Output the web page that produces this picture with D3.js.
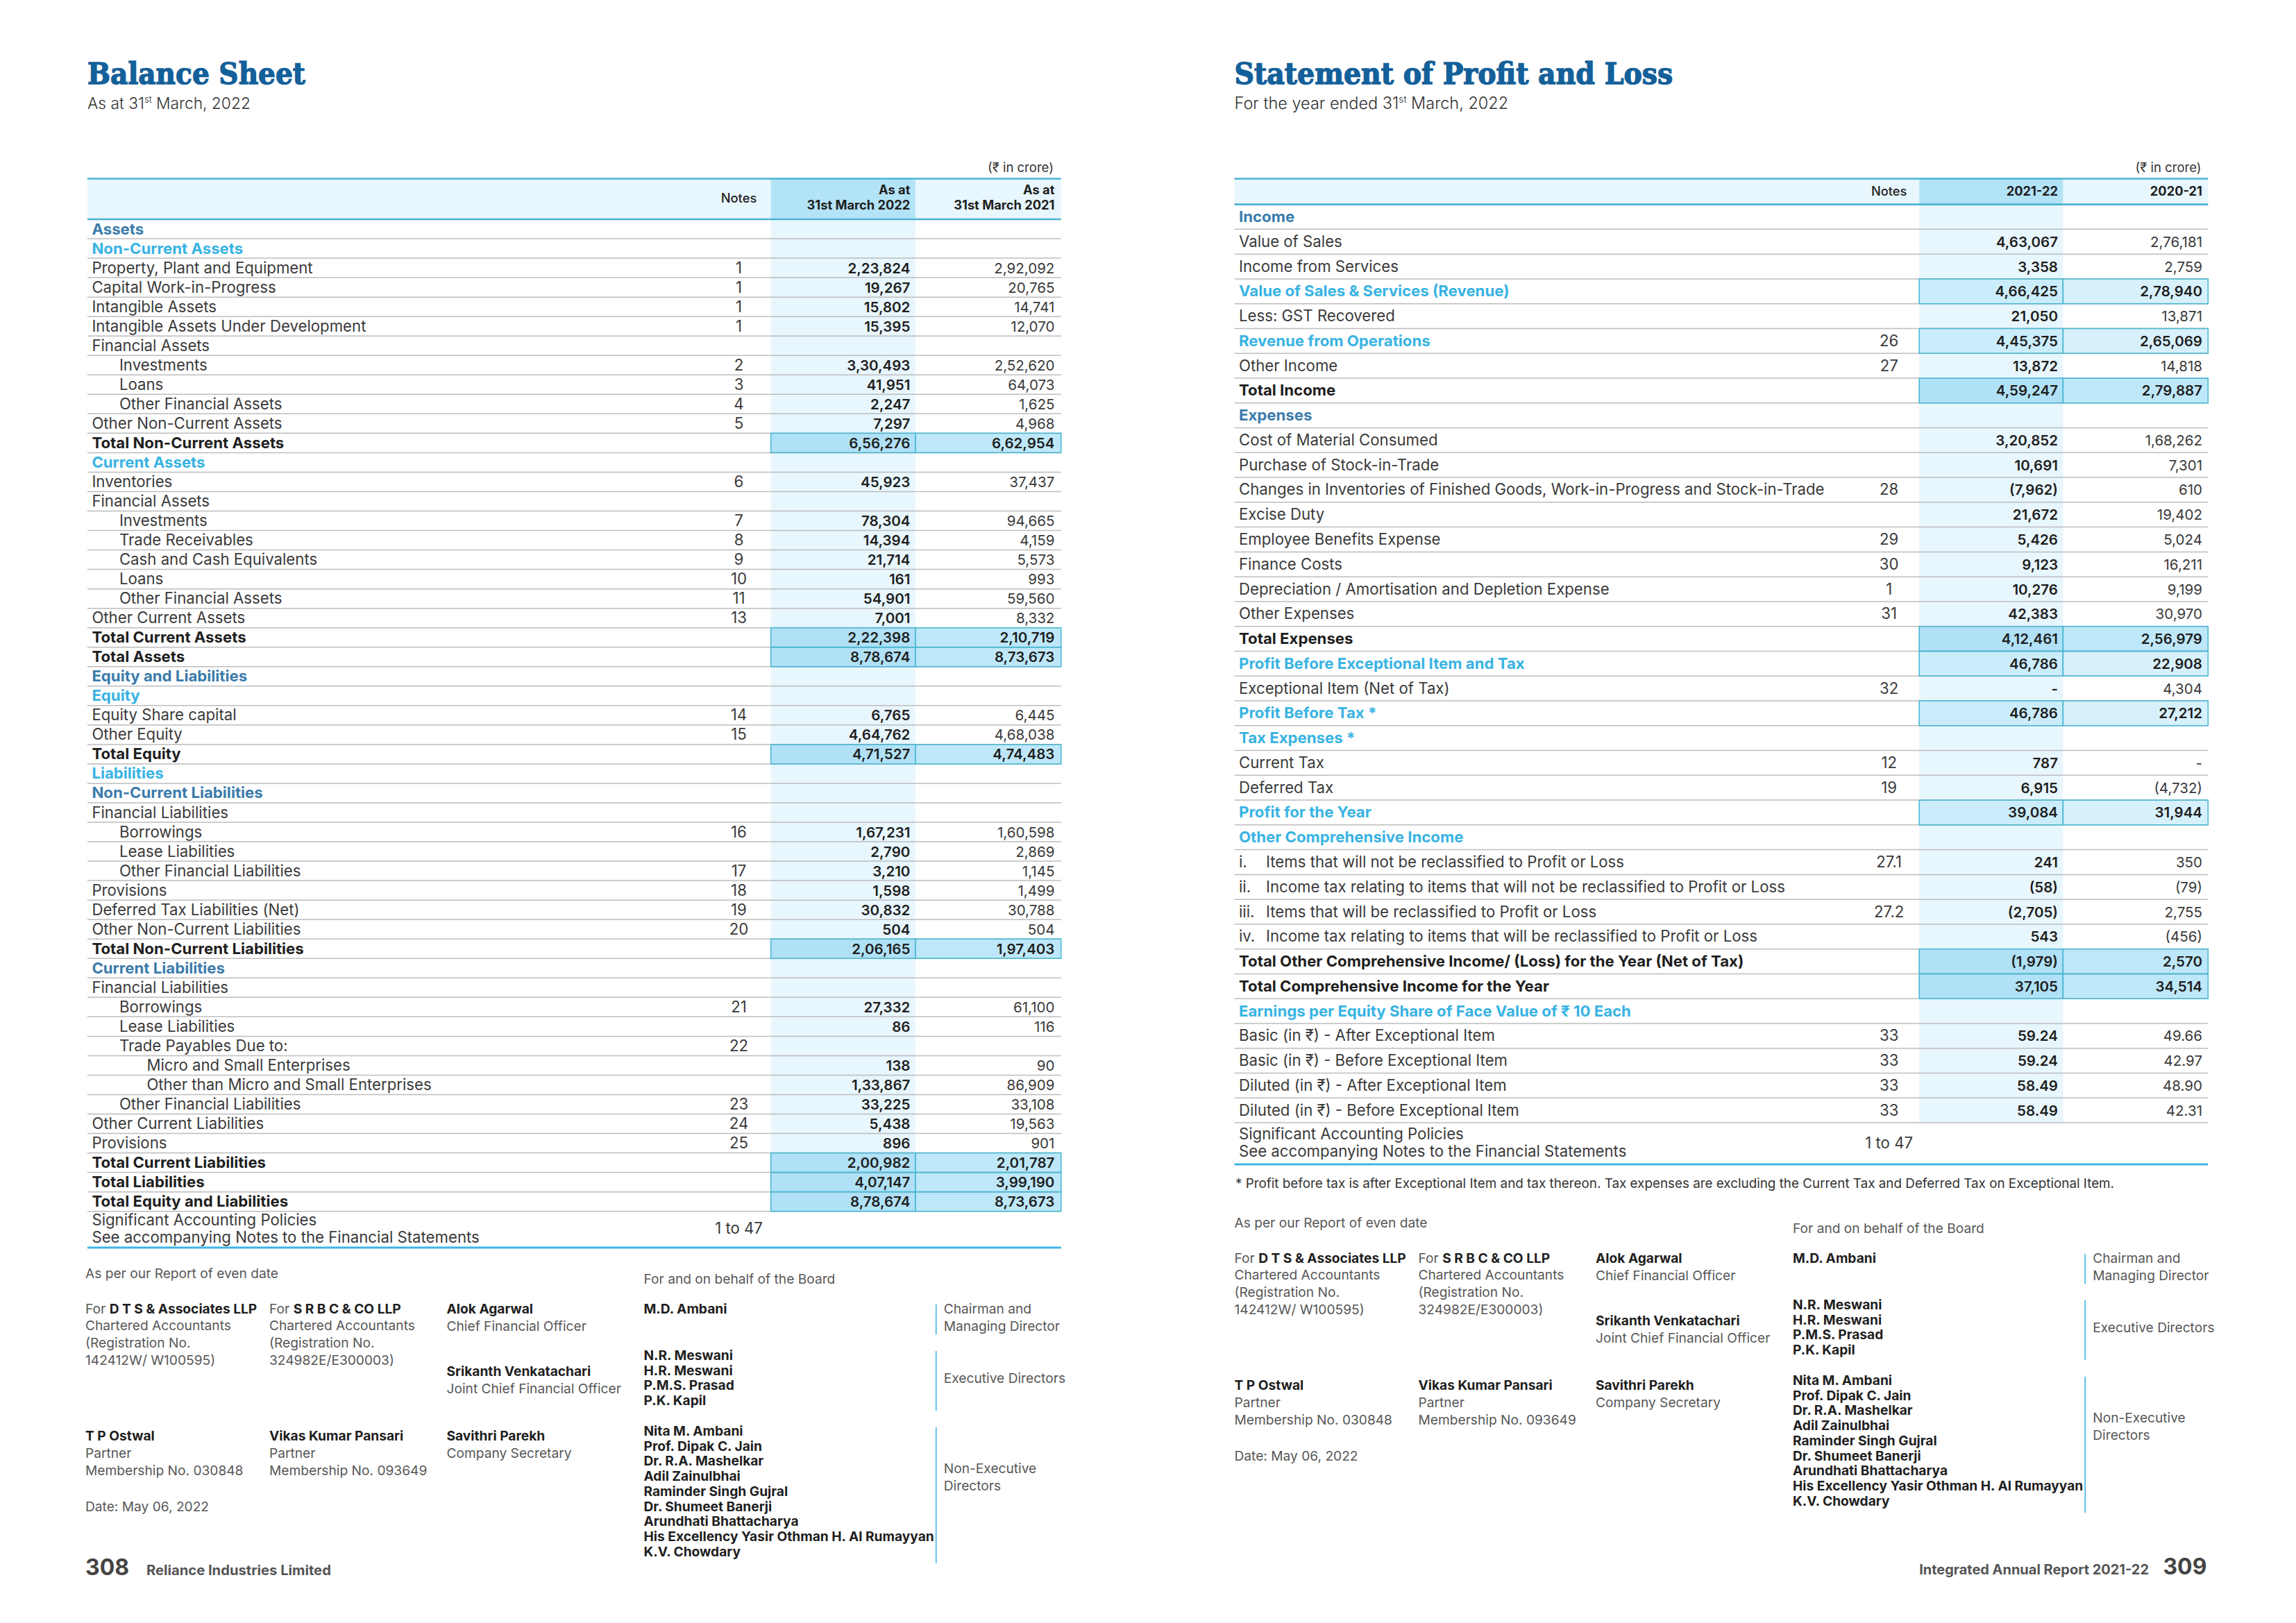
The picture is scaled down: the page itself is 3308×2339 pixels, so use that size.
<!DOCTYPE html>
<html><head><meta charset="utf-8">
<script src="https://cdn.jsdelivr.net/npm/d3@7"></script>
<style>body{margin:0;background:#fff}svg{display:block}</style>
</head><body><svg id="c" width="3308" height="2339"></svg>
<script>
// ---------------- DATA ----------------
const bsLabels = ["Assets","Non-Current Assets","Property, Plant and Equipment","Capital Work-in-Progress","Intangible Assets","Intangible Assets Under Development","Financial Assets","Investments","Loans","Other Financial Assets","Other Non-Current Assets","Total Non-Current Assets","Current Assets","Inventories","Financial Assets","Investments","Trade Receivables","Cash and Cash Equivalents","Loans","Other Financial Assets","Other Current Assets","Total Current Assets","Total Assets","Equity and Liabilities","Equity","Equity Share capital","Other Equity","Total Equity","Liabilities","Non-Current Liabilities","Financial Liabilities","Borrowings","Lease Liabilities","Other Financial Liabilities","Provisions","Deferred Tax Liabilities (Net)","Other Non-Current Liabilities","Total Non-Current Liabilities","Current Liabilities","Financial Liabilities","Borrowings","Lease Liabilities","Trade Payables Due to:","Micro and Small Enterprises","Other than Micro and Small Enterprises","Other Financial Liabilities","Other Current Liabilities","Provisions","Total Current Liabilities","Total Liabilities","Total Equity and Liabilities"];
const bsKinds = ["h1","h2","item","item","item","item","item","item","item","item","item","total","h2","item","item","item","item","item","item","item","item","total","total","h1","h2","item","item","total","h2","h1","item","item","item","item","item","item","item","total","h1","item","item","item","item","item","item","item","item","item","total","total","total"];
const bsIndent = [0,0,0,0,0,0,0,1,1,1,0,0,0,0,0,1,1,1,1,1,0,0,0,0,0,0,0,0,0,0,0,1,1,1,0,0,0,0,0,0,1,1,1,2,2,1,0,0,0,0,0];
const bsNotes = ["","","1","1","1","1","","2","3","4","5","","","6","","7","8","9","10","11","13","","","","","14","15","","","","","16","","17","18","19","20","","","","21","","22","","","23","24","25","","",""];
const bs2022 = [null,null,223824,19267,15802,15395,null,330493,41951,2247,7297,656276,null,45923,null,78304,14394,21714,161,54901,7001,222398,878674,null,null,6765,464762,471527,null,null,null,167231,2790,3210,1598,30832,504,206165,null,null,27332,86,null,138,133867,33225,5438,896,200982,407147,878674];
const bs2021 = [null,null,292092,20765,14741,12070,null,252620,64073,1625,4968,662954,null,37437,null,94665,4159,5573,993,59560,8332,210719,873673,null,null,6445,468038,474483,null,null,null,160598,2869,1145,1499,30788,504,197403,null,null,61100,116,null,90,86909,33108,19563,901,201787,399190,873673];

const plLabels = ["Income","Value of Sales","Income from Services","Value of Sales & Services (Revenue)","Less: GST Recovered","Revenue from Operations","Other Income","Total Income","Expenses","Cost of Material Consumed","Purchase of Stock-in-Trade","Changes in Inventories of Finished Goods, Work-in-Progress and Stock-in-Trade","Excise Duty","Employee Benefits Expense","Finance Costs","Depreciation / Amortisation and Depletion Expense","Other Expenses","Total Expenses","Profit Before Exceptional Item and Tax","Exceptional Item (Net of Tax)","Profit Before Tax *","Tax Expenses *","Current Tax","Deferred Tax","Profit for the Year","Other Comprehensive Income","i.|Items that will not be reclassified to Profit or Loss","ii.|Income tax relating to items that will not be reclassified to Profit or Loss","iii.|Items that will be reclassified to Profit or Loss","iv.|Income tax relating to items that will be reclassified to Profit or Loss","Total Other Comprehensive Income/ (Loss) for the Year (Net of Tax)","Total Comprehensive Income for the Year","Earnings per Equity Share of Face Value of ₹ 10 Each","Basic (in ₹) - After Exceptional Item","Basic (in ₹) - Before Exceptional Item","Diluted (in ₹) - After Exceptional Item","Diluted (in ₹) - Before Exceptional Item"];
const plKinds = ["h1","item","item","sub","item","sub","item","total","h1","item","item","item","item","item","item","item","item","total","sub","item","sub","h2","item","item","sub","h2","item","item","item","item","total","total","h2","item","item","item","item"];
const plNotes = ["","","","","","26","27","","","","","28","","29","30","1","31","","","32","","","12","19","","","27.1","","27.2","","","","","33","33","33","33"];
const pl2022 = [null,463067,3358,466425,21050,445375,13872,459247,null,320852,10691,-7962,21672,5426,9123,10276,42383,412461,46786,0,46786,null,787,6915,39084,null,241,-58,-2705,543,-1979,37105,null,59.24,59.24,58.49,58.49];
const pl2021 = [null,276181,2759,278940,13871,265069,14818,279887,null,168262,7301,610,19402,5024,16211,9199,30970,256979,22908,4304,27212,null,0,-4732,31944,null,350,-79,2755,-456,2570,34514,null,49.66,42.97,48.90,42.31];

const auditors = [
  {firm:"D T S & Associates LLP", reg:"142412W/ W100595)", partner:"T P Ostwal", mem:"030848"},
  {firm:"S R B C & CO LLP", reg:"324982E/E300003)", partner:"Vikas Kumar Pansari", mem:"093649"}
];
const officers = [["Alok Agarwal","Chief Financial Officer"],["Srikanth Venkatachari","Joint Chief Financial Officer"],["Savithri Parekh","Company Secretary"]];
const boardNames = [["M.D. Ambani"],["N.R. Meswani","H.R. Meswani","P.M.S. Prasad","P.K. Kapil"],["Nita M. Ambani","Prof. Dipak C. Jain","Dr. R.A. Mashelkar","Adil Zainulbhai","Raminder Singh Gujral","Dr. Shumeet Banerji","Arundhati Bhattacharya","His Excellency Yasir Othman H. Al Rumayyan","K.V. Chowdary"]];
const boardRoles = [["Chairman and","Managing Director"],["Executive Directors"],["Non-Executive","Directors"]];

// ---------------- SETUP ----------------
const W=3308,H=2339;
const svg=d3.select('#c');
svg.append('rect').attr('width',W).attr('height',H).attr('fill','#fff');
const BODY="Inter, 'Noto Sans', 'DejaVu Sans', sans-serif";
const SERIF="'DejaVu Serif Condensed','DejaVu Serif',serif";
const C = {title:'#14609a', h1:'#3b7bab', h2:'#38b3e3', text:'#3a3a3a', dark:'#1e1e1e', gray:'#575757',
  light:'#e8f6fd', headDark:'#b3e3f7', tot22:'#b0e1f6', tot21:'#bee8f9', sub22:'#cbedfb', sub21:'#d7f1fc',
  box:'#4cb8d3', rule:'#bdbdbd', teal:'#4ab3cf', blue:'#3db5e4'};

function measure(text,family,weight,size){
  const t=svg.append('text').attr('font-family',family).attr('font-weight',weight).attr('font-size',size).text(text);
  const w=t.node().getComputedTextLength(); t.remove(); return w;
}
function fit(text,family,weight,target){return 20*target/measure(text,family,weight,20);}
const fsBody=fit('Significant Accounting Policies',BODY,400,324);
const fsVal=fit('2,23,824',BODY,600,90);
const fsHead=fit('31st March 2022',BODY,700,149);
const fsSig=fit('Chartered Accountants',BODY,400,210);
const fsTitleL=fit('Balance Sheet',SERIF,700,314);
const fsTitleR=fit('Statement of Profit and Loss',SERIF,700,632);
const fsNoteFoot=fit('* Profit before tax is after Exceptional Item and tax thereon. Tax expenses are excluding the Current Tax and Deferred Tax on Exceptional Item.',BODY,400,1267);
const fsUnit=fit('(₹ in crore)',BODY,400,95);

function fmt(v){
  if(v===null||v===undefined) return '';
  if(v===0) return '-';
  const neg=v<0; const a=Math.abs(v);
  let s;
  if(Number.isInteger(a)){
    const str=String(a); const last3=str.slice(-3); let rest=str.slice(0,-3);
    rest=rest.replace(/\B(?=(\d{2})+(?!\d))/g,',');
    s=rest?rest+','+last3:last3;
  } else s=a.toFixed(2);
  return neg?'('+s+')':s;
}

function txt(g,x,y,s,o={}){
  return g.append('text').attr('x',x).attr('y',y).text(s)
    .attr('font-family',o.family||BODY).attr('font-size',o.size||fsBody)
    .attr('font-weight',o.weight||400).attr('fill',o.fill||C.text)
    .attr('text-anchor',o.anchor||'start');
}

// ---------------- TITLES ----------------
function titleBlock(x,title,fsT,pre,subW){
  // title: stretch vertically so cap height matches the tall slab face (~31px)
  const tg=svg.append('g');
  const tt=txt(tg,0,0,title,{family:SERIF,size:fsT,weight:700,fill:C.title})
    .attr('stroke',C.title).attr('stroke-width',1.3);
  const bb=tt.node().getBBox();
  // DejaVu Serif cap height ~0.729em
  const ky=31/(0.729*fsT);
  tg.attr('transform',`translate(${x},121) scale(1,${ky})`);
  let fs=22;
  const t=svg.append('text').attr('x',x).attr('y',157).attr('font-family',BODY).attr('font-weight',300).attr('fill','#333');
  t.append('tspan').text(pre+'31');
  const sup=t.append('tspan').text('st');
  const rest=t.append('tspan').text(' March, 2022');
  function apply(f){t.attr('font-size',f);sup.attr('font-size',f*0.58).attr('dy',-f*0.38);rest.attr('dy',f*0.38);}
  apply(fs);
  const w=t.node().getBBox().width;
  apply(fs*subW/w);
}
titleBlock(126,'Balance Sheet',fsTitleL,'As at ',235);
titleBlock(1778.5,'Statement of Profit and Loss',fsTitleR,'For the year ended ',395);

// ---------------- TABLES ----------------
function drawTable(cfg){
  const {x0,x1,c1,c2,c3,notesX,v22x,v21x,top,hb,rowH,lastH,labels,kinds,indent,notes,v22,v21,headers} = cfg;
  const n=labels.length;
  const y=d3.scaleLinear().domain([0,n]).range([hb,hb+n*rowH]);
  const cols=d3.scaleOrdinal().domain(['cy','py']).range([[c1,c2],[c2,c3]]);
  const valX=d3.scaleOrdinal().domain(['cy','py']).range([v22x,v21x]);
  const g=svg.append('g');
  txt(g,v21x-1.5,247.5,'(₹ in crore)',{size:fsUnit,anchor:'end',fill:'#333'});
  g.append('rect').attr('x',x0).attr('y',top).attr('width',x1-x0).attr('height',hb-top).attr('fill',C.light);
  g.append('rect').attr('x',c1).attr('y',top).attr('width',c2-c1).attr('height',hb-top).attr('fill',C.headDark);
  g.append('rect').attr('x',c1).attr('y',hb).attr('width',c2-c1).attr('height',y(n)-hb).attr('fill',C.light);
  const idx=d3.range(n);
  const hl=idx.filter(i=>kinds[i]==='total'||kinds[i]==='sub');
  hl.forEach(i=>{
    ['cy','py'].forEach(k=>{
      const [a,b]=cols(k);
      const fill= kinds[i]==='total' ? (k==='cy'?C.tot22:C.tot21) : (k==='cy'?C.sub22:C.sub21);
      g.append('rect').attr('x',a).attr('y',y(i)).attr('width',b-a).attr('height',rowH).attr('fill',fill);
    });
  });
  g.selectAll('line.rule').data(d3.range(1,n+1)).join('line').attr('class','rule')
    .attr('x1',x0).attr('x2',x1).attr('y1',d=>y(d)).attr('y2',d=>y(d))
    .attr('stroke',C.rule).attr('stroke-width',1.5);
  hl.forEach(i=>{
    ['cy','py'].forEach(k=>{
      const [a,b]=cols(k);
      g.append('rect').attr('x',a).attr('y',y(i)).attr('width',b-a).attr('height',rowH)
        .attr('fill','none').attr('stroke',C.box).attr('stroke-width',1.6);
    });
  });
  [top,hb].forEach(yy=>g.append('line').attr('x1',x0).attr('x2',x1).attr('y1',yy).attr('y2',yy).attr('stroke',C.teal).attr('stroke-width',2.6));
  const bottom=y(n)+lastH;
  g.append('line').attr('x1',x0).attr('x2',x1).attr('y1',bottom).attr('y2',bottom).attr('stroke',C.blue).attr('stroke-width',3);
  headers(g,valX);
  idx.forEach(i=>{
    const k=kinds[i];
    const by=y(i)+rowH/2+7.5;
    const fill = k==='h1'?C.h1 : (k==='h2'||k==='sub')?C.h2 : k==='total'?C.dark : C.text;
    const w = k==='item'?400:700;
    const lx=x0+6.5+indent[i]*39.5;
    const parts=labels[i].split('|');
    if(parts.length===2){
      txt(g,lx,by,parts[0],{fill,weight:w});
      txt(g,lx+39,by,parts[1],{fill,weight:w});
    } else txt(g,lx,by,parts[0],{fill,weight:w});
    if(notes[i]) txt(g,notesX,by,notes[i],{anchor:'middle'});
    const bold21 = (k==='total'||k==='sub');
    txt(g,valX('cy'),by,fmt(v22[i]),{anchor:'end',size:fsVal,weight:600,fill:C.dark});
    txt(g,valX('py'),by,fmt(v21[i]),{anchor:'end',size:fsVal,weight:bold21?600:400,fill:bold21?C.dark:C.text});
  });
  const cy=y(n)+lastH/2+6.5;
  txt(g,x0+6.5,cy-12.3,'Significant Accounting Policies');
  txt(g,x0+6.5,cy+12.3,'See accompanying Notes to the Financial Statements');
  txt(g,notesX,cy,'1 to 47',{anchor:'middle'});
}

drawTable({x0:125.9,x1:1528.7,c1:1110.7,c2:1318.8,c3:1528.7,notesX:1064.5,v22x:1311.4,v21x:1519.4,top:257.5,hb:316,rowH:28.033,lastH:52.3,
  labels:bsLabels,kinds:bsKinds,indent:bsIndent,notes:bsNotes,v22:bs2022,v21:bs2021,
  headers:(g,vx)=>{
    const o={anchor:'end',size:fsHead,weight:700,fill:'#1e1e1e'};
    txt(g,1064.5,292,'Notes',{anchor:'middle',size:fsHead,weight:500,fill:'#222'});
    txt(g,vx('cy'),280,'As at',o); txt(g,vx('cy'),302,'31st March 2022',o);
    txt(g,vx('py'),280,'As at',o); txt(g,vx('py'),302,'31st March 2021',o);
  }});

drawTable({x0:1778.5,x1:3181.3,c1:2765.2,c2:2972.3,c3:3181.3,notesX:2721.7,v22x:2965,v21x:3173,top:257.5,hb:294.6,rowH:35.77,lastH:60,
  labels:plLabels,kinds:plKinds,indent:plLabels.map(()=>0),notes:plNotes,v22:pl2022,v21:pl2021,
  headers:(g,vx)=>{
    const o={anchor:'end',size:fsHead,weight:700,fill:'#1e1e1e'};
    txt(g,2721.7,281.5,'Notes',{anchor:'middle',size:fsHead,weight:500,fill:'#222'});
    txt(g,vx('cy'),281.5,'2021-22',o);
    txt(g,vx('py'),281.5,'2020-21',o);
  }});

txt(svg,1780,1712,'* Profit before tax is after Exceptional Item and tax thereon. Tax expenses are excluding the Current Tax and Deferred Tax on Exceptional Item.',{size:fsNoteFoot,fill:'#333'});

// ---------------- SIGNATURES ----------------
function signatures(ox,B){
  const g=svg.append('g');
  const reg={size:fsSig,fill:C.gray}, bold={size:fsSig,weight:700,fill:C.dark};
  txt(g,ox,B,'As per our Report of even date',reg);
  txt(g,ox+804.5,B+7.5,'For and on behalf of the Board',reg);
  auditors.forEach((a,i)=>{
    const x=ox+i*265;
    const t=g.append('text').attr('x',x).attr('y',B+50.5).attr('font-family',BODY).attr('font-size',fsSig);
    t.append('tspan').attr('fill',C.gray).text('For ');
    t.append('tspan').attr('fill',C.dark).attr('font-weight',700).text(a.firm);
    txt(g,x,B+75,'Chartered Accountants',reg);
    txt(g,x,B+100,'(Registration No.',reg);
    txt(g,x,B+125,a.reg,reg);
    txt(g,x,B+234,a.partner,bold);
    txt(g,x,B+259,'Partner',reg);
    txt(g,x,B+284,'Membership No. '+a.mem,reg);
  });
  txt(g,ox,B+336,'Date: May 06, 2022',reg);
  const offY=[50.5,141,234];
  officers.forEach((o,i)=>{
    txt(g,ox+520.5,B+offY[i],o[0],bold);
    txt(g,ox+520.5,B+offY[i]+25,o[1],reg);
  });
  const nameY=[50.5,118,227], roleY=[50.5,151,280.7], vl=[[38,81],[105,191],[215,411]];
  boardNames.forEach((names,gi)=>{
    names.forEach((nm,j)=>txt(g,ox+804.5,B+nameY[gi]+j*21.7,nm,bold));
    boardRoles[gi].forEach((r,j)=>txt(g,ox+1236.8,B+roleY[gi]+j*25,r,reg));
    g.append('line').attr('x1',ox+1225.7).attr('x2',ox+1225.7).attr('y1',B+vl[gi][0]).attr('y2',B+vl[gi][1])
      .attr('stroke',C.blue).attr('stroke-width',1.6);
  });
}
signatures(123,1842);
signatures(1778.5,1769);

// ---------------- FOOTERS ----------------
const fs308=fit('308',BODY,700,63);
const fsRel=fit('Reliance Industries Limited',BODY,700,266);
const fsIAR=fit('Integrated Annual Report 2021-22',BODY,700,331);
txt(svg,123,2270,'308',{size:fs308,weight:700,fill:'#444'});
txt(svg,211,2270,'Reliance Industries Limited',{size:fsRel,weight:700,fill:'#555'});
txt(svg,3179.4,2269,'309',{size:fs308,weight:700,fill:'#444',anchor:'end'});
txt(svg,3096,2269,'Integrated Annual Report 2021-22',{size:fsIAR,weight:700,fill:'#555',anchor:'end'});
</script>
</body></html>
